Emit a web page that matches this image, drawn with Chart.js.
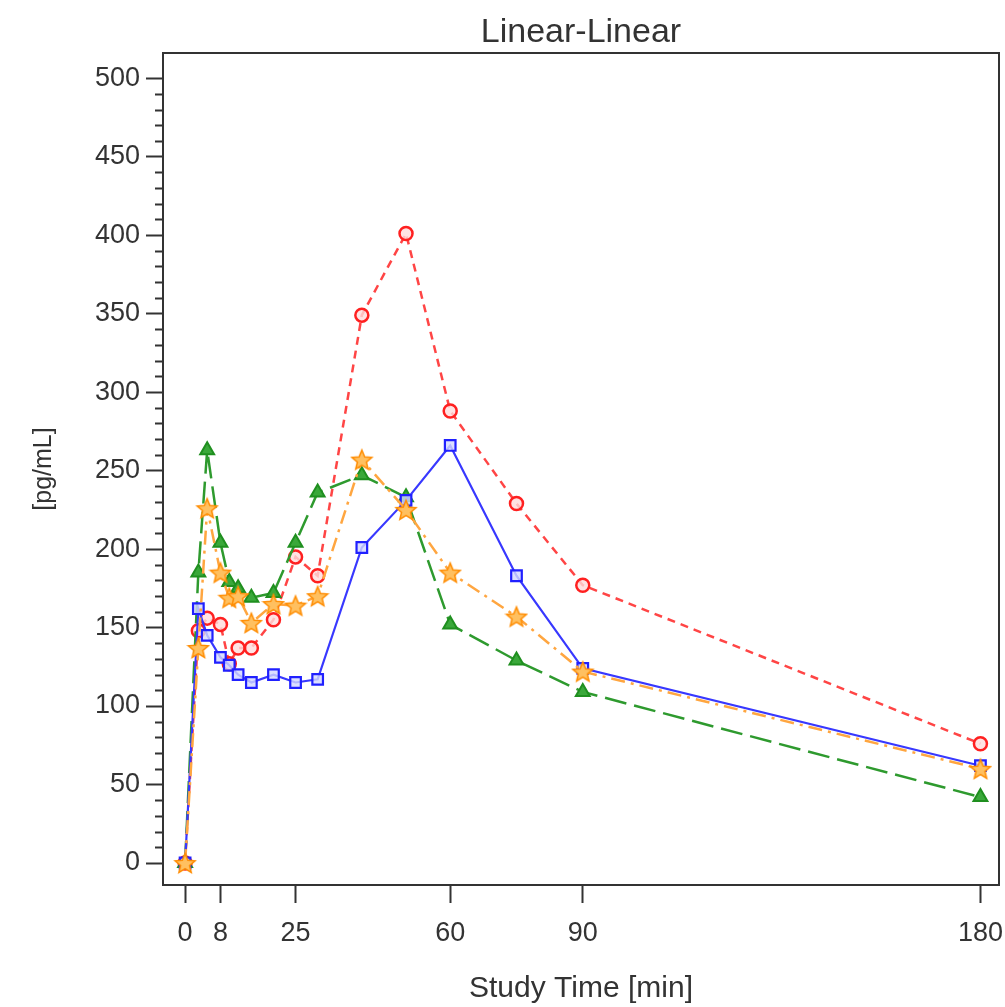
<!DOCTYPE html>
<html>
<head>
<meta charset="utf-8">
<title>Linear-Linear</title>
<script src="https://cdn.jsdelivr.net/npm/chart.js@4/dist/chart.umd.min.js"></script>
<style>
  html, body { margin: 0; padding: 0; background: #fff; }
  canvas { display: block; }
</style>
</head>
<body>
<canvas id="grafico" width="1005" height="1007"></canvas>
<script>
// ─── Dados ────────────────────────────────────────────────────────────────────
const tempos   = [0, 3, 5, 8, 10, 12, 15, 20, 25, 30, 40, 50, 60, 75, 90, 180];
const vermelho = [0, 148, 156, 152, 127, 137, 137, 155, 195, 183, 349, 401, 288, 229, 177, 76];
const azul     = [0, 162, 145, 131, 126, 120, 115, 120, 115, 117, 201, 231, 266, 183, 124, 62];
const verde    = [0, 185, 263, 204, 179, 175, 169, 172, 204, 236, 247, 233, 152, 129, 109, 42];
const laranja  = [0, 137, 226, 185, 169, 170, 153, 165, 164, 170, 257, 225, 185, 157, 122, 60];

const ticksX      = [0, 8, 25, 60, 90, 180];
const ticksY      = [0, 50, 100, 150, 200, 250, 300, 350, 400, 450, 500];
const ticksYMenor = [10, 20, 30, 40, 60, 70, 80, 90, 110, 120, 130, 140, 160, 170, 180, 190,
                     210, 220, 230, 240, 260, 270, 280, 290, 310, 320, 330, 340, 360, 370, 380, 390,
                     410, 420, 430, 440, 460, 470, 480, 490];

const FONTE = "'Liberation Sans', Arial, sans-serif";
const COR_EIXO = '#333';

// Estrela cheia de 5 pontas (o Chart.js só tem a estrela de traços)
function marcadorEstrela(tam, preench, borda) {
  const c = document.createElement('canvas');
  c.width = tam; c.height = tam;
  const g = c.getContext('2d');
  const cx = tam / 2, cy = tam / 2 + 1, rExt = tam / 2 - 1.5, rInt = rExt * 0.45;
  g.beginPath();
  for (let i = 0; i < 10; i++) {
    const r = i % 2 === 0 ? rExt : rInt;
    const a = -Math.PI / 2 + i * Math.PI / 5;
    g.lineTo(cx + r * Math.cos(a), cy + r * Math.sin(a));
  }
  g.closePath();
  g.fillStyle = preench;
  g.fill();
  g.lineWidth = 1.5;
  g.strokeStyle = borda;
  g.stroke();
  return c;
}

const pares = ys => tempos.map((t, i) => ({ x: t, y: ys[i] }));

// Ticks menores do eixo Y
const ticksMenores = {
  id: 'ticksMenores',
  afterDraw(chart) {
    const esc = chart.scales.y;
    const ctx = chart.ctx;
    ctx.save();
    ctx.strokeStyle = COR_EIXO;
    ctx.lineWidth = 2;
    ctx.beginPath();
    ticksYMenor.forEach(v => {
      const py = Math.round(esc.getPixelForValue(v)) + 0.5;
      ctx.moveTo(esc.right - 8, py);
      ctx.lineTo(esc.right, py);
    });
    ctx.stroke();
    ctx.restore();
  },
};

const datasets = [
  {
    label: 'Laranja',
    data: pares(laranja),
    borderColor: '#ffa640',
    borderWidth: 2.5,
    borderDash: [14, 6, 3, 6],
    pointStyle: marcadorEstrela(24, '#ffc060', '#ff8c00'),
  },
  {
    label: 'Azul',
    data: pares(azul),
    borderColor: '#3838ff',
    borderWidth: 2.2,
    pointStyle: 'rect',
    pointRadius: 7.5,
    pointBorderWidth: 2.2,
    pointBorderColor: '#2020ff',
    pointBackgroundColor: 'rgba(210,215,255,0.8)',
  },
  {
    label: 'Verde',
    data: pares(verde),
    borderColor: '#2e9a2e',
    borderWidth: 2.5,
    borderDash: [22, 8],
    pointStyle: 'triangle',
    pointRadius: 8,
    pointBorderWidth: 2,
    pointBorderColor: '#1f8f1f',
    pointBackgroundColor: '#3aa83a',
  },
  {
    label: 'Vermelho',
    data: pares(vermelho),
    borderColor: '#ff4545',
    borderWidth: 2.5,
    borderDash: [8, 6],
    pointStyle: 'circle',
    pointRadius: 6.5,
    pointBorderWidth: 2.5,
    pointBorderColor: '#ff2020',
    pointBackgroundColor: 'rgba(255,220,220,0.8)',
  },
];

datasets.forEach(d => {
  d.fill = false;
  d.tension = 0;
  d.pointHoverRadius = d.pointRadius;
});

// Sem folga lateral para os rótulos: a área do gráfico fica fixa
const semFolga = esc => { esc.paddingLeft = 0; esc.paddingRight = 0; };

new Chart(document.getElementById('grafico'), {
  type: 'line',
  data: { datasets },
  plugins: [ticksMenores],
  options: {
    responsive: false,
    animation: false,
    layout: { padding: 0, autoPadding: false },
    plugins: {
      legend: { display: false },
      tooltip: { enabled: false },
    },
    scales: {
      x: {
        type: 'linear',
        position: 'bottom',
        min: -5,
        max: 184.2,
        afterBuildTicks: esc => { esc.ticks = ticksX.map(v => ({ value: v })); },
        afterFit: esc => { esc.height = 122; semFolga(esc); },
        grid: { drawOnChartArea: false, drawTicks: true, tickLength: 18, tickWidth: 2, tickColor: COR_EIXO },
        border: { display: true, color: COR_EIXO, width: 2 },
        ticks: { font: { family: FONTE, size: 27 }, color: '#333', padding: 14, maxRotation: 0, autoSkip: false },
        title: { display: true, text: 'Study Time [min]', font: { family: FONTE, size: 30 }, color: '#333', padding: 0 },
      },
      topo: {
        type: 'linear',
        position: 'top',
        min: -5,
        max: 184.2,
        afterFit: esc => { esc.height = 53; semFolga(esc); },
        grid: { drawOnChartArea: false, drawTicks: false },
        border: { display: true, color: COR_EIXO, width: 2 },
        ticks: { display: false },
        title: { display: true, text: 'Linear-Linear', font: { family: FONTE, size: 34 }, color: '#333', padding: { top: 12, bottom: 0 } },
      },
      y: {
        type: 'linear',
        position: 'left',
        min: -14,
        max: 516,
        afterBuildTicks: esc => { esc.ticks = ticksY.map(v => ({ value: v })); },
        afterFit: esc => { esc.width = 163; },
        grid: { drawOnChartArea: false, drawTicks: true, tickLength: 17, tickWidth: 2, tickColor: COR_EIXO },
        border: { display: true, color: COR_EIXO, width: 2 },
        ticks: { font: { family: FONTE, size: 27 }, color: '#333', padding: 6, autoSkip: false },
        title: { display: true, text: '[pg/mL]', font: { family: FONTE, size: 25 }, color: '#333', padding: { top: 29, bottom: 0 } },
      },
      direita: {
        type: 'linear',
        position: 'right',
        min: -14,
        max: 516,
        afterFit: esc => { esc.width = 6; },
        grid: { drawOnChartArea: false, drawTicks: false },
        border: { display: true, color: COR_EIXO, width: 2 },
        ticks: { display: false },
      },
    },
  },
});
</script>
</body>
</html>
